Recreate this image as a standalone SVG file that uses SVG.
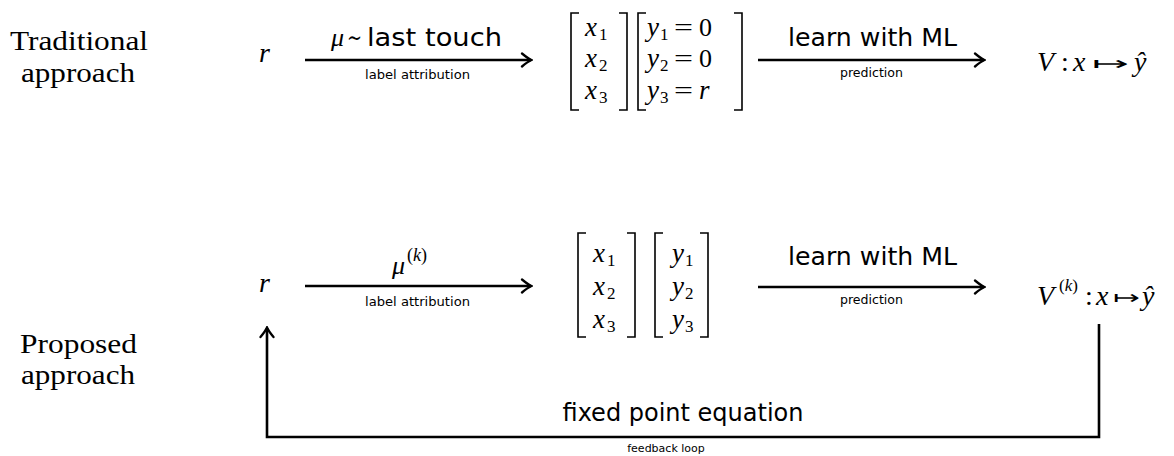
<svg xmlns="http://www.w3.org/2000/svg" width="1174" height="456" viewBox="0 0 1174 456">
<style>
.rm{font-family:"Liberation Serif",serif;font-size:27px;fill:#000}
.mi{font-family:"Liberation Serif",serif;font-style:italic;font-size:27px;fill:#000}
.mb{font-family:"Liberation Serif",serif;font-style:italic;font-size:28px;fill:#000}
.it{font-style:italic}
.sub{font-family:"Liberation Serif",serif;font-size:17px;fill:#000}
.num{font-family:"Liberation Serif",serif;font-size:26px;fill:#000}
.sym{font-family:"DejaVu Sans",sans-serif;font-size:19px;fill:#000}
.ss{font-family:"DejaVu Sans",sans-serif;font-size:25px;fill:#000}
.sm{font-family:"DejaVu Sans",sans-serif;font-size:12.5px;fill:#000}
.br{fill:none;stroke:#000;stroke-width:1.6}
.ln{fill:none;stroke:#000;stroke-width:2.6}
</style>
<defs>
<marker id="arr" viewBox="-12 -9 14 18" refX="0" refY="0" markerWidth="14" markerHeight="18" markerUnits="userSpaceOnUse" orient="auto">
<path d="M-9,-6.5 Q-3,-1.5 0.5,0 Q-3,1.5 -9,6.5" fill="none" stroke="#000" stroke-width="2.3" stroke-linecap="round"/>
</marker>
</defs>
<rect width="1174" height="456" fill="#fff"/>

<g id="label-traditional">
<text class="rm" x="10" y="50" textLength="138" lengthAdjust="spacingAndGlyphs">Traditional</text>
<text class="rm" x="21" y="82" textLength="114" lengthAdjust="spacingAndGlyphs">approach</text>
</g>
<g id="label-proposed">
<text class="rm" x="20" y="353" textLength="117" lengthAdjust="spacingAndGlyphs">Proposed</text>
<text class="rm" x="21" y="384" textLength="114" lengthAdjust="spacingAndGlyphs">approach</text>
</g>

<g id="r-top"><text class="mb" x="259" y="62">r</text></g>
<g id="r-bottom"><text class="mb" x="259" y="292">r</text></g>

<g id="data-top">
<path class="br" d="M579,13 H571 V110 H579"/>
<path class="br" d="M619,13 H627 V110 H619"/>
<path class="br" d="M646,13 H638 V110 H646"/>
<path class="br" d="M734,13 H742 V110 H734"/>
<text class="mi" x="585" y="36">x</text><text class="sub" x="599" y="40">1</text>
<text class="mi" x="585" y="67">x</text><text class="sub" x="599" y="71">2</text>
<text class="mi" x="585" y="99">x</text><text class="sub" x="599" y="103">3</text>
<text class="mi" x="647" y="36">y</text><text class="sub" x="660" y="40">1</text>
<text class="num" x="674" y="36" textLength="19" lengthAdjust="spacingAndGlyphs">=</text><text class="num" x="699" y="36">0</text>
<text class="mi" x="647" y="67">y</text><text class="sub" x="660" y="71">2</text>
<text class="num" x="674" y="67" textLength="19" lengthAdjust="spacingAndGlyphs">=</text><text class="num" x="699" y="67">0</text>
<text class="mi" x="647" y="99">y</text><text class="sub" x="660" y="103">3</text>
<text class="num" x="674" y="99" textLength="19" lengthAdjust="spacingAndGlyphs">=</text><text class="mi" x="699" y="99">r</text>
</g>

<g id="data-bottom">
<path class="br" d="M586,233 H578 V337 H586"/>
<path class="br" d="M627,233 H635 V337 H627"/>
<path class="br" d="M663,233 H655 V337 H663"/>
<path class="br" d="M700,233 H708 V337 H700"/>
<text class="mi" x="593" y="262">x</text><text class="sub" x="607" y="266">1</text>
<text class="mi" x="593" y="295">x</text><text class="sub" x="607" y="299">2</text>
<text class="mi" x="593" y="328">x</text><text class="sub" x="607" y="332">3</text>
<text class="mi" x="672" y="262">y</text><text class="sub" x="685" y="266">1</text>
<text class="mi" x="672" y="295">y</text><text class="sub" x="685" y="299">2</text>
<text class="mi" x="672" y="328">y</text><text class="sub" x="685" y="332">3</text>
</g>

<g id="V-top">
<text class="mb" x="1037" y="71">V</text>
<text class="num" x="1061" y="71" style="font-size:28px">:</text>
<text class="mb" x="1073" y="71">x</text>
<text class="sym" x="1092" y="70" textLength="37" lengthAdjust="spacingAndGlyphs">↦</text>
<text class="mb" x="1134" y="71">ŷ</text>
</g>

<g id="V-bottom">
<text class="mb" x="1037" y="305">V</text>
<text class="sub" x="1059" y="291">(<tspan class="it">k</tspan>)</text>
<text class="num" x="1085" y="305" style="font-size:28px">:</text>
<text class="mb" x="1096" y="305">x</text>
<text class="sym" x="1113" y="304" textLength="27" lengthAdjust="spacingAndGlyphs">↦</text>
<text class="mb" x="1142" y="305">ŷ</text>
</g>

<g id="connectors">
<line class="ln" x1="305" y1="60" x2="531" y2="60" marker-end="url(#arr)"/>
<line class="ln" x1="758" y1="60" x2="984" y2="60" marker-end="url(#arr)"/>
<line class="ln" x1="305" y1="286" x2="531" y2="286" marker-end="url(#arr)"/>
<line class="ln" x1="758" y1="287" x2="984" y2="287" marker-end="url(#arr)"/>
<path class="ln" d="M1099,324 V437 H267 V328" marker-end="url(#arr)"/>
</g>

<g id="connector-labels">
<text class="mi" x="331" y="46" style="font-size:26px">μ</text>
<text x="347" y="46" style="font-family:'DejaVu Serif',serif;font-size:25px" textLength="15" lengthAdjust="spacingAndGlyphs">∼</text>
<text class="ss" x="367" y="46" textLength="135" lengthAdjust="spacingAndGlyphs">last touch</text>
<text class="sm" x="365" y="79" textLength="105" lengthAdjust="spacingAndGlyphs">label attribution</text>
<text class="ss" x="788" y="46" textLength="169" lengthAdjust="spacingAndGlyphs">learn with ML</text>
<text class="sm" x="840" y="77" textLength="63" lengthAdjust="spacingAndGlyphs">prediction</text>
<text class="mi" x="392" y="274" style="font-size:26px">μ</text>
<text class="sub" x="407" y="261" style="font-size:18px">(<tspan class="it">k</tspan>)</text>
<text class="sm" x="365" y="306" textLength="105" lengthAdjust="spacingAndGlyphs">label attribution</text>
<text class="ss" x="788" y="265" textLength="169" lengthAdjust="spacingAndGlyphs">learn with ML</text>
<text class="sm" x="840" y="304" textLength="63" lengthAdjust="spacingAndGlyphs">prediction</text>
<text class="ss" x="683" y="421" text-anchor="middle" style="font-size:24px">fixed point equation</text>
<text class="sm" x="666" y="452" text-anchor="middle" style="font-size:11px">feedback loop</text>
</g>
</svg>
